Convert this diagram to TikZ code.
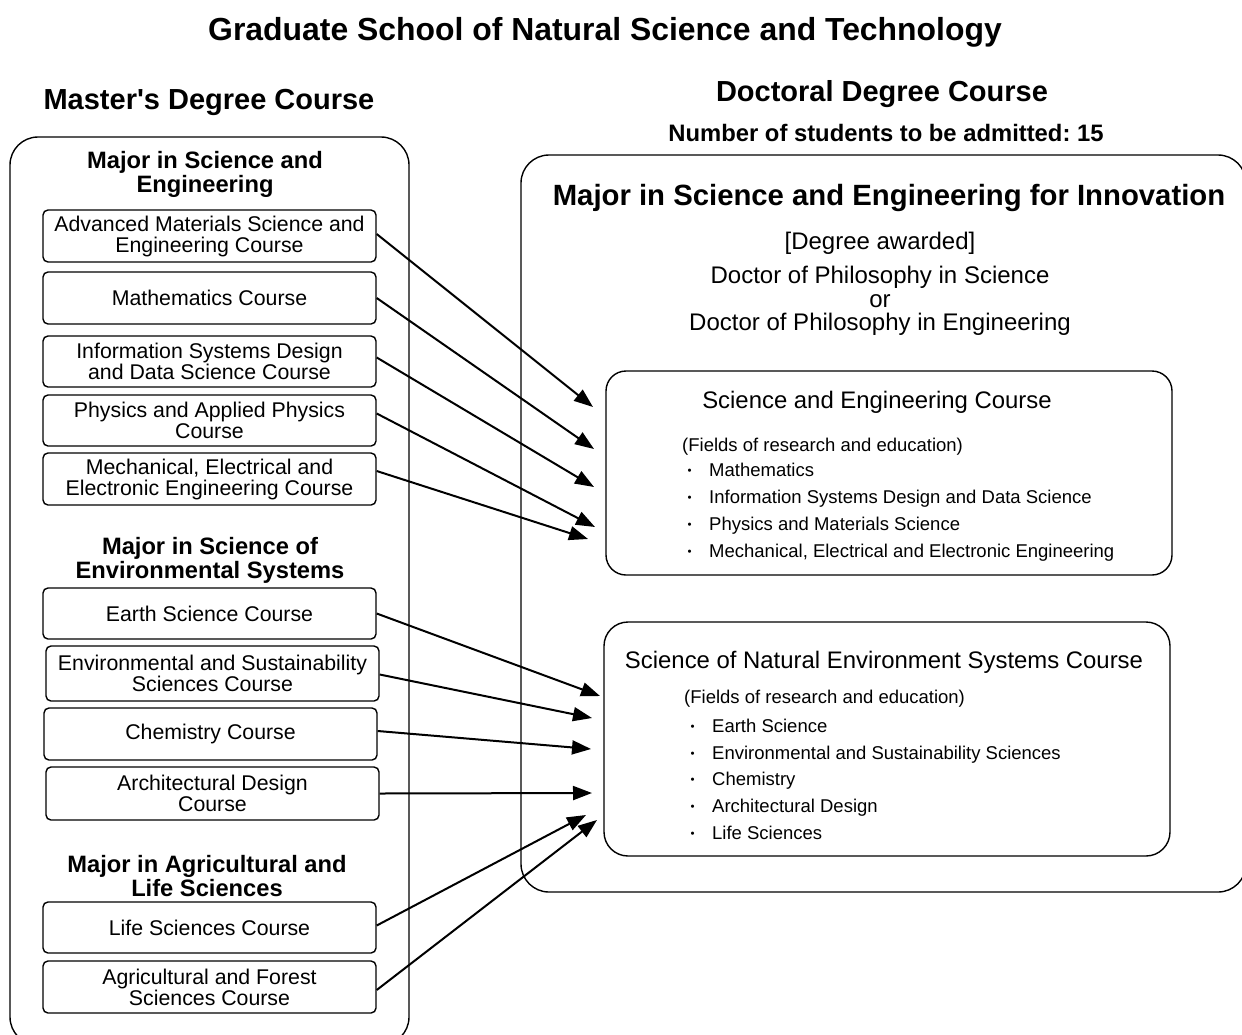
\documentclass[tikz,border=0pt]{standalone}
\usepackage{fontspec}
\setmainfont{Liberation Sans}
\usetikzlibrary{arrows.meta}
\newcommand\myfs[2]{\fontsize{#1}{#2}\selectfont}
\newcommand\mydot{\makebox[22pt][l]{\hspace{0.5pt}{\fontsize{11.5}{11.5}\selectfont\raisebox{0.3ex}{•}}}}
\frenchspacing
\begin{document}
\begin{tikzpicture}[x=1pt,y=-1pt,
  crs/.style={draw, line width=1.4pt, rounded corners=5pt, minimum width=333pt, minimum height=52pt, align=center, inner sep=0pt, font=\myfs{21.3}{21}},
  hdr/.style={align=center, inner sep=0pt, font=\bfseries\myfs{23.7}{24}},
  arr/.style={line width=2pt, -{Triangle[length=19pt,width=14pt]}},
  big/.style={draw, line width=1.4pt, rounded corners=28pt, inner sep=0pt},
  sub/.style={draw, line width=1.4pt, rounded corners=20pt, inner sep=0pt, minimum width=566pt},
  fld/.style={anchor=base west, inner sep=0pt, font=\myfs{18.5}{22}},
  ttl/.style={inner sep=0pt, align=center},
]
\useasboundingbox (0,0) rectangle (1242,1034);

% titles
\node[ttl, font=\bfseries\myfs{31.9}{34}] (title) at (605,32) {Graduate School of Natural Science and Technology};
\node[ttl, font=\bfseries\myfs{29}{32}] (mtitle) at (209,102) {Master\textquotesingle s Degree Course};
\node[ttl, font=\bfseries\myfs{29}{32}] (dtitle) at (882,94) {Doctoral Degree Course};
\node[ttl, font=\bfseries\myfs{23.8}{26}] (num) at (886,133) {Number of students to be admitted: 15};

% outer containers
\node[big, minimum width=399pt, minimum height=908pt] (L) at (209.5,591) {};
\node[big, minimum width=725pt, minimum height=737pt] (R) at (883.5,523.5) {};

% left headers
\node[hdr] (h1) at (205,174) {Major in Science and\\Engineering};
\node[hdr] (h2) at (210,560) {Major in Science of\\Environmental Systems};
\node[hdr] (h3) at (207,876) {Major in Agricultural and\\Life Sciences};

% master's courses
\node[crs] (a1) at (209.5,236) {Advanced Materials Science and\\Engineering Course};
\node[crs] (a2) at (209.5,298) {Mathematics Course};
\node[crs, minimum height=51pt] (a3) at (209.5,361.5) {Information Systems Design\\and Data Science Course};
\node[crs, minimum height=51pt] (a4) at (209.5,420.5) {Physics and Applied Physics\\Course};
\node[crs] (a5) at (209.5,479) {Mechanical, Electrical and\\Electronic Engineering Course};
\node[crs, minimum height=51pt] (b1) at (209.5,613.5) {Earth Science Course};
\node[crs, minimum height=55pt] (b2) at (212.5,673.5) {Environmental and Sustainability\\Sciences Course};
\node[crs] (b3) at (210.5,734) {Chemistry Course};
\node[crs, minimum height=53pt] (b4) at (212.5,793.5) {Architectural Design\\Course};
\node[crs, minimum height=51pt] (c1) at (209.5,927.5) {Life Sciences Course};
\node[crs] (c2) at (209.5,987) {Agricultural and Forest\\Sciences Course};

% doctoral
\node[ttl, font=\bfseries\myfs{29.3}{32}] (maj) at (889,198) {Major in Science and Engineering for Innovation};
\node[ttl, font=\myfs{24}{26}] (deg) at (880,243) {[Degree awarded]};
\node[ttl, font=\myfs{24}{23.5}] (doc) at (880,301) {Doctor of Philosophy in Science\\or\\Doctor of Philosophy in Engineering};

\node[sub, minimum height=204pt] (S1) at (889,473) {};
\node[ttl, font=\myfs{23.9}{26}] (s1t) at (877,402) {Science and Engineering Course};
\node[fld] (f1) at (682,451.5) {(Fields of research and education)};
\node[fld] (f11) at (687,476.5) {\mydot Mathematics};
\node[fld] (f12) at (687,503.5) {\mydot Information Systems Design and Data Science};
\node[fld] (f13) at (687,530.5) {\mydot Physics and Materials Science};
\node[fld] (f14) at (687,557.5) {\mydot Mechanical, Electrical and Electronic Engineering};

\node[sub, rounded corners=24pt, minimum height=234pt] (S2) at (887,739) {};
\node[ttl, font=\myfs{23.9}{26}] (s2t) at (884,662) {Science of Natural Environment Systems Course};
\node[fld] (f2) at (684,703.5) {(Fields of research and education)};
\node[fld] (f21) at (690,732.5) {\mydot Earth Science};
\node[fld] (f22) at (690,759.5) {\mydot Environmental and Sustainability Sciences};
\node[fld] (f23) at (690,785.5) {\mydot Chemistry};
\node[fld] (f24) at (690,812.5) {\mydot Architectural Design};
\node[fld] (f25) at (690,839.5) {\mydot Life Sciences};

% arrow targets
\coordinate (t1) at (593,407);
\coordinate (t2) at (594,449);
\coordinate (t3) at (594,487);
\coordinate (t4) at (595,527);
\coordinate (t5) at (588,539);
\coordinate (t6) at (600,696);
\coordinate (t7) at (592,718);
\coordinate (t8) at (591,749);
\coordinate (t9) at (592,793);
\coordinate (t10) at (586,815);
\coordinate (t11) at (597,820);

\draw[arr] ([yshift=2pt]a1.east) -- (t1);
\draw[arr] (a2.east) -- (t2);
\draw[arr] ([yshift=4pt]a3.east) -- (t3);
\draw[arr] ([yshift=7pt]a4.east) -- (t4);
\draw[arr] ([yshift=8pt]a5.east) -- (t5);
\draw[arr] (b1.east) -- (t6);
\draw[arr] ([yshift=-1pt]b2.east) -- (t7);
\draw[arr] ([yshift=3pt]b3.east) -- (t8);
\draw[arr] (b4.east) -- (t9);
\draw[arr] ([yshift=2pt]c1.east) -- (t10);
\draw[arr] ([yshift=-3pt]c2.east) -- (t11);
\end{tikzpicture}
\end{document}
